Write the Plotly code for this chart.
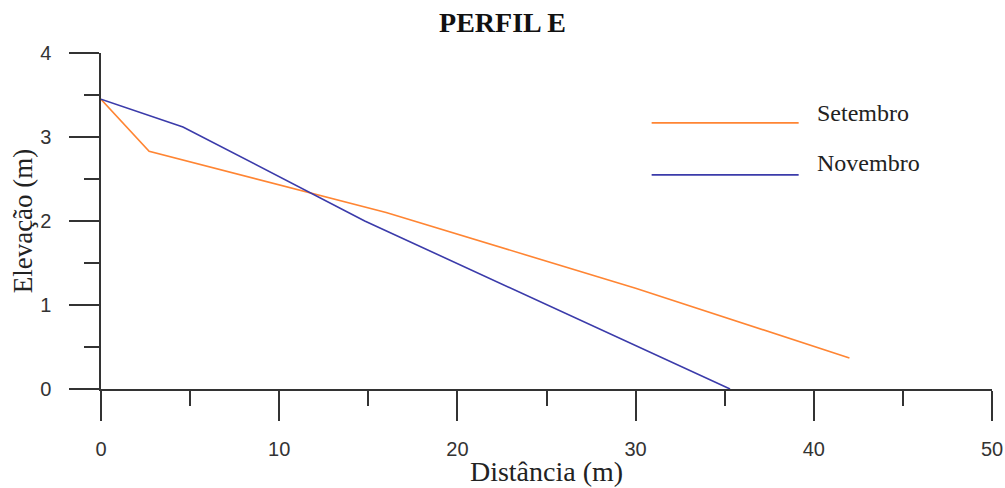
import plotly.graph_objects as go

# Data
set_x = [0, 2.7, 16, 30, 42]
set_y = [3.45, 2.83, 2.1, 1.2, 0.37]
nov_x = [0, 4.6, 14.8, 35.3]
nov_y = [3.45, 3.12, 2.0, 0.0]
series_names = ["Setembro", "Novembro"]
colors = ["#FF8533", "#3B3BAA"]
x_ticks = [0, 10, 20, 30, 40, 50]
y_ticks = [0, 1, 2, 3, 4]

fig = go.Figure()
fig.add_trace(go.Scatter(x=set_x, y=set_y, mode="lines", name=series_names[0],
                         line=dict(color=colors[0], width=1.6), cliponaxis=False))
fig.add_trace(go.Scatter(x=nov_x, y=nov_y, mode="lines", name=series_names[1],
                         line=dict(color=colors[1], width=1.6), cliponaxis=False))

axis_color = "#333333"
serif = "Liberation Serif, Times New Roman, serif"
tickfont = dict(family="Liberation Sans, Arial, sans-serif", size=20, color="#333333")

fig.update_xaxes(range=[0, 50], tickvals=x_ticks, ticktext=[str(v) for v in x_ticks],
                 showgrid=False, zeroline=False, showline=True, linecolor=axis_color, linewidth=1.5,
                 ticks="outside", ticklen=30, tickwidth=1.5, tickcolor=axis_color,
                 ticklabelstandoff=11, tickfont=tickfont, automargin=False,
                 minor=dict(dtick=5, tick0=0, ticks="outside", ticklen=15, tickwidth=1.5,
                            tickcolor=axis_color, showgrid=False),
                 title=dict(text="Distância (m)", standoff=3,
                            font=dict(family=serif, size=28, color="#222")))
fig.update_yaxes(range=[0, 4], tickvals=y_ticks, ticktext=[str(v) for v in y_ticks],
                 showgrid=False, zeroline=False, showline=True, linecolor=axis_color, linewidth=1.5,
                 ticks="outside", ticklen=30, tickwidth=1.5, tickcolor=axis_color,
                 ticklabelstandoff=14, tickfont=tickfont, automargin=False,
                 minor=dict(dtick=0.5, tick0=0, ticks="outside", ticklen=15, tickwidth=1.5,
                            tickcolor=axis_color, showgrid=False),
                 title=dict(text="Elevação (m)", standoff=0,
                            font=dict(family=serif, size=27, color="#222")))

# Manual legend (long sample lines as in the reference)
leg_lines_y = [0.792, 0.637]
leg_text_y = [0.821, 0.673]
for name, col, ly, ty in zip(series_names, colors, leg_lines_y, leg_text_y):
    fig.add_shape(type="line", xref="paper", yref="paper", x0=0.618, x1=0.783, y0=ly, y1=ly,
                  line=dict(color=col, width=1.8))
    fig.add_annotation(xref="paper", yref="paper", x=0.801, y=ty, text=name, showarrow=False,
                       xanchor="left", yanchor="middle",
                       font=dict(family=serif, size=24, color="#222"))

fig.update_layout(
    width=1005, height=488,
    margin=dict(l=101, r=13, t=53, b=99),
    paper_bgcolor="white", plot_bgcolor="white",
    showlegend=False,
    title=dict(text="<b>PERFIL E</b>", x=0.5, xref="container", xanchor="center",
               y=0.955, yanchor="middle",
               font=dict(family=serif, size=28, color="#111")),
)

fig.write_html("out.html")
